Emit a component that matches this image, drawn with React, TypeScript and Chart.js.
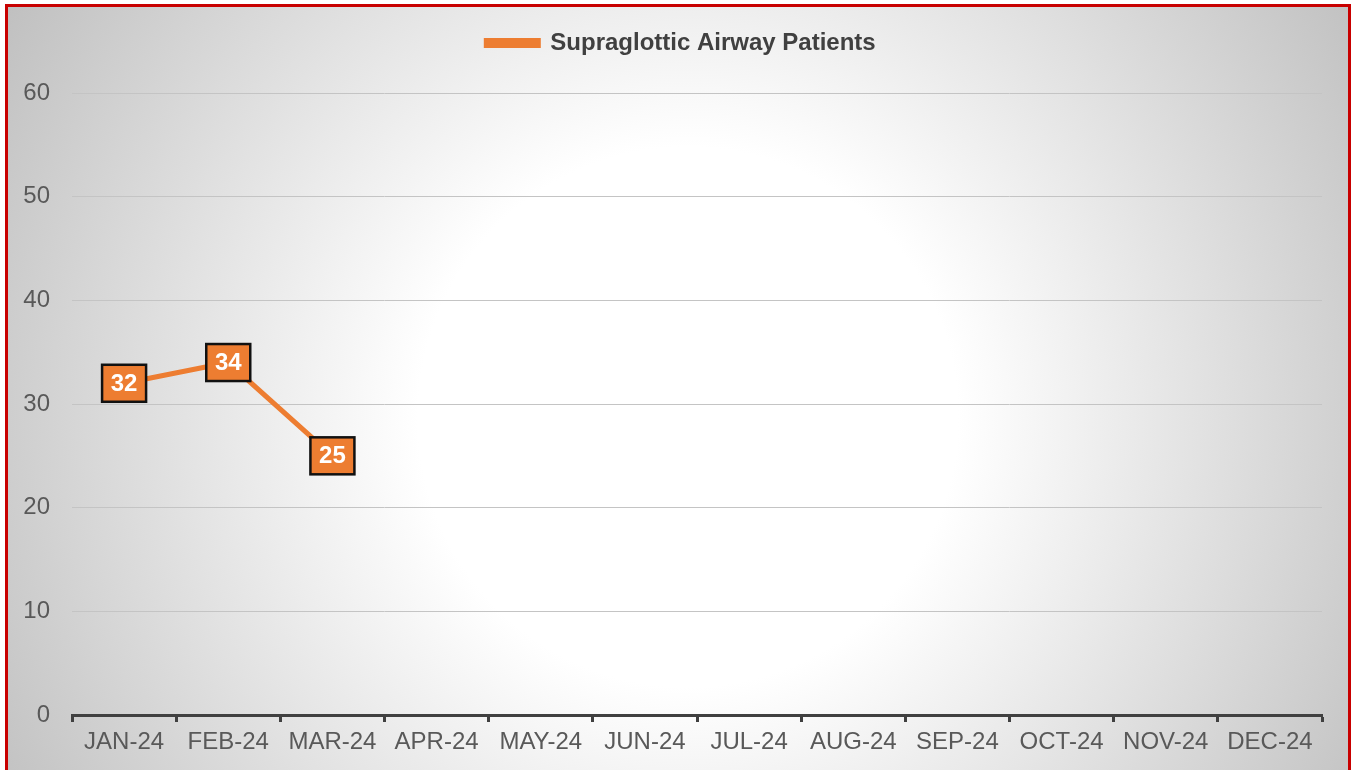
import React, { useEffect, useRef } from "react";
import { Chart, registerables } from "chart.js";

Chart.register(...registerables);

const categories = ["JAN-24", "FEB-24", "MAR-24", "APR-24", "MAY-24", "JUN-24", "JUL-24", "AUG-24", "SEP-24", "OCT-24", "NOV-24", "DEC-24"];
const patients: (number | null)[] = [32, 34, 25, null, null, null, null, null, null, null, null, null];
const seriesName = "Supraglottic Airway Patients";
const yMin = 0;
const yMax = 60;
const yStep = 10;

const FONT = "'Liberation Sans', Arial, sans-serif";
const ORANGE = "#ED7D31";

const labelBoxPlugin = {
  id: "labelBoxes",
  afterDatasetsDraw(chart: any) {
    const ctx = chart.ctx;
    chart.data.datasets.forEach((ds: any, di: number) => {
      const meta = chart.getDatasetMeta(di);
      meta.data.forEach((pt: any, i: number) => {
        const v = ds.data[i];
        if (v === null || v === undefined) return;
        const w = 44, h = 37;
        const x = pt.x, y = pt.y;
        ctx.save();
        ctx.fillStyle = ORANGE;
        ctx.fillRect(x - w / 2, y - h / 2, w, h);
        ctx.lineWidth = 2.5;
        ctx.strokeStyle = "#111111";
        ctx.strokeRect(x - w / 2, y - h / 2, w, h);
        ctx.fillStyle = "#FFFFFF";
        ctx.font = `bold 24px ${FONT}`;
        ctx.textAlign = "center";
        ctx.textBaseline = "middle";
        ctx.fillText(String(v), x, y + 1);
        ctx.restore();
      });
    });
  },
};

// Legend is centred on the full chart box rather than the plot: shift it a bit right.
const legendShiftPlugin = {
  id: "legendShift",
  afterLayout(chart: any) {
    const lg = chart.legend;
    if (lg) {
      lg.left += 40;
      lg.right += 0;
    }
  },
};

export default function App() {
  const ref = useRef<HTMLCanvasElement | null>(null);

  useEffect(() => {
    document.body.style.margin = "0";
    if (!ref.current) return;
    const chart = new Chart(ref.current, {
      type: "line",
      data: {
        labels: categories,
        datasets: [
          {
            label: seriesName,
            data: patients,
            borderColor: ORANGE,
            backgroundColor: ORANGE,
            borderWidth: 5,
            pointRadius: 0,
            pointHoverRadius: 0,
            tension: 0,
            spanGaps: false,
          },
        ],
      },
      options: {
        animation: false,
        responsive: false,
        maintainAspectRatio: false,
        layout: { padding: { top: 21, right: 31, bottom: 0, left: 0 } },
        plugins: {
          tooltip: { enabled: false },
          title: {
            display: true,
            text: "",
            font: { size: 8, lineHeight: 1 },
            padding: { top: 20, bottom: 0 },
          },
          legend: {
            display: true,
            position: "top",
            weight: 3000,
            labels: {
              boxWidth: 52,
              boxHeight: 5,
              padding: 10,
              color: "#404040",
              font: { family: FONT, size: 24, weight: "bold" },
            },
          },
        },
        scales: {
          x: {
            type: "category",
            offset: true,
            grid: {
              offset: true,
              drawOnChartArea: false,
              drawTicks: true,
              tickLength: 7,
              tickWidth: 3,
              tickColor: "#404040",
            },
            border: { display: true, color: "#404040", width: 3 },
            ticks: {
              color: "#595959",
              font: { family: FONT, size: 24 },
              padding: 6,
              maxRotation: 0,
              autoSkip: false,
            },
            afterFit: (scale: any) => {
              scale.height = 55;
            },
          },
          y: {
            min: yMin,
            max: yMax,
            ticks: {
              stepSize: yStep,
              color: "#595959",
              font: { family: FONT, size: 24 },
              padding: 22,
            },
            grid: {
              color: "#C4C4C4",
              lineWidth: 1,
              drawTicks: false,
            },
            border: { display: false },
            afterFit: (scale: any) => {
              scale.width = 72;
            },
          },
        },
      },
      plugins: [labelBoxPlugin, legendShiftPlugin],
    });
    return () => chart.destroy();
  }, []);

  return (
    <div style={{ position: "relative", width: 1353, height: 770, overflow: "hidden" }}>
      <div
        style={{
          position: "absolute",
          left: 5,
          top: 4,
          width: 1346,
          height: 790,
          boxSizing: "border-box",
          border: "3px solid #C80000",
          background:
            "radial-gradient(circle at 680px 410px, #ffffff 0px, #ffffff 270px, #bdbdbd 820px)",
        }}
      />
      <canvas
        ref={ref}
        width={1353}
        height={770}
        style={{ position: "absolute", left: 0, top: 0, width: 1353, height: 770 }}
      />
    </div>
  );
}
